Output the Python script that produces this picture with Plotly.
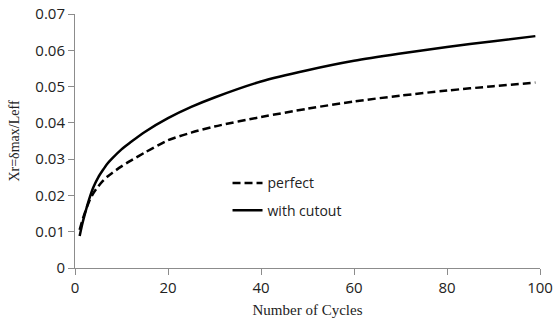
import plotly.graph_objects as go

# Drift ratio growth over loading cycles
cycles = [1, 1.5, 2, 3, 4, 5, 6, 7, 8, 10, 12, 15, 20, 25, 30, 40, 50, 60, 70, 80, 90, 99]
perfect = [0.0105, 0.0128, 0.0148, 0.0182, 0.0207, 0.0225, 0.0240, 0.0252, 0.0262,
           0.0280, 0.0296, 0.0318, 0.0352, 0.0373, 0.0390, 0.0416, 0.0439, 0.0459,
           0.0475, 0.0489, 0.0501, 0.0511]
with_cutout = [0.0088, 0.0118, 0.0143, 0.0188, 0.0224, 0.0250, 0.0270, 0.0288, 0.0302,
               0.0327, 0.0347, 0.0375, 0.0413, 0.0444, 0.0470, 0.0514, 0.0545, 0.0571,
               0.0591, 0.0609, 0.0625, 0.0639]

x_ticks = [0, 20, 40, 60, 80, 100]
y_ticks = [0, 0.01, 0.02, 0.03, 0.04, 0.05, 0.06, 0.07]
y_tick_text = ["0", "0.01", "0.02", "0.03", "0.04", "0.05", "0.06", "0.07"]

tick_font = dict(family="Open Sans", size=15, color="#222222")

fig = go.Figure()
fig.add_trace(go.Scatter(
    x=cycles, y=perfect, mode="lines", name="perfect", legendgroup="a",
    line=dict(color="black", width=2.5, dash="8px,4px", shape="spline", smoothing=0.8),
))
fig.add_trace(go.Scatter(
    x=cycles, y=with_cutout, mode="lines", name="with cutout", legendgroup="b",
    line=dict(color="black", width=2.5, shape="spline", smoothing=0.8),
))

axis_common = dict(
    showgrid=False, zeroline=False, showline=True, linecolor="#8c8c8c",
    linewidth=1, ticks="outside", tickcolor="#8c8c8c", ticklen=6, tickwidth=1,
    tickfont=tick_font, automargin=False,
)

fig.update_layout(
    width=554, height=322,
    margin=dict(l=75, r=14, t=14, b=54),
    paper_bgcolor="white", plot_bgcolor="white",
    showlegend=True,
    legend=dict(
        x=0.328, y=0.28, xanchor="left", yanchor="middle",
        font=dict(family="Open Sans", size=14, color="#222222"),
        bgcolor="rgba(0,0,0,0)", tracegroupgap=6,
    ),
    xaxis=dict(
        range=[0, 100], tickvals=x_ticks,
        title=dict(text="Number of Cycles", standoff=8,
                   font=dict(family="Liberation Serif", size=15, color="#222222")),
        **axis_common,
    ),
    yaxis=dict(
        range=[0, 0.07], tickvals=y_ticks, ticktext=y_tick_text,
        title=dict(text="Xr=δmax/Leff", standoff=12,
                   font=dict(family="Liberation Serif", size=14, color="#222222")),
        **axis_common,
    ),
)

fig.write_html("out.html")
